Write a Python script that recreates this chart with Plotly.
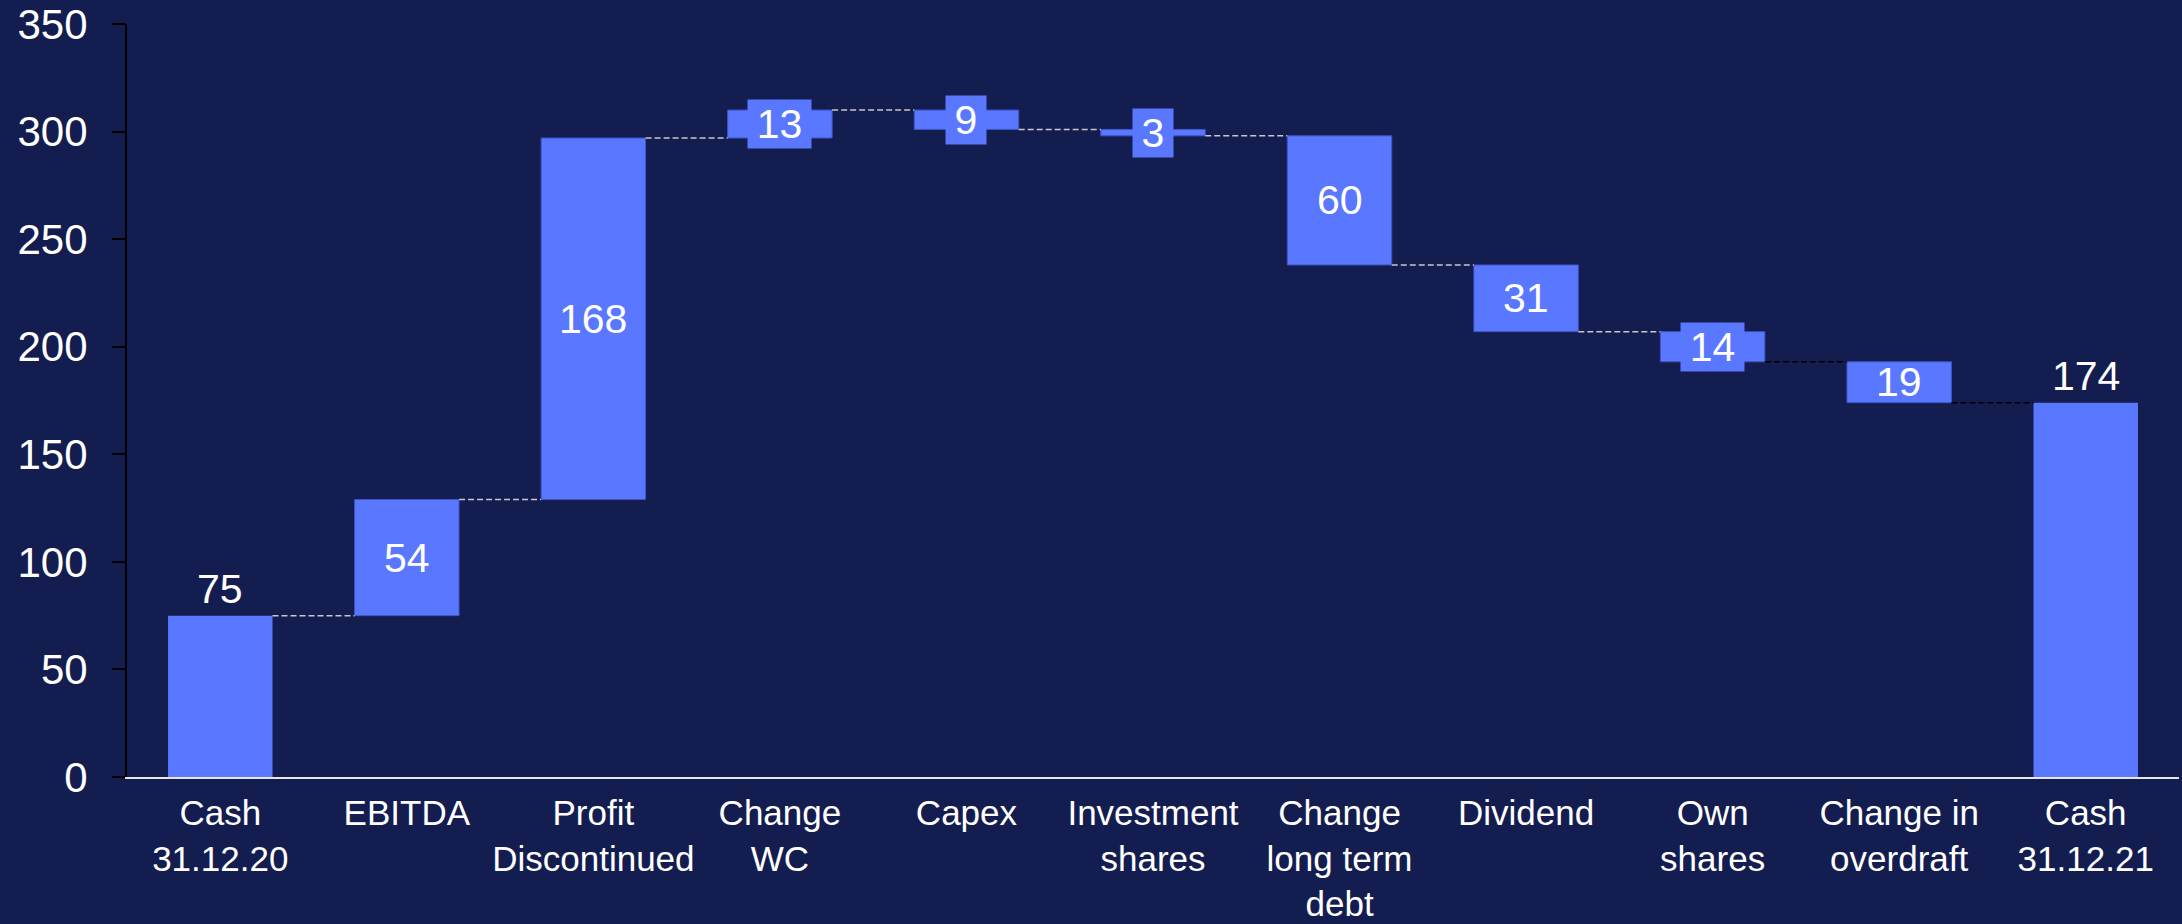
import plotly.graph_objects as go

categories = ["Cash<br>31.12.20", "EBITDA", "Profit<br>Discontinued", "Change<br>WC", "Capex",
              "Investment<br>shares", "Change<br>long term<br>debt", "Dividend", "Own<br>shares",
              "Change in<br>overdraft", "Cash<br>31.12.21"]
values = [75, 54, 168, 13, -9, -3, -60, -31, -14, -19, 174]
measures = ["absolute", "relative", "relative", "relative", "relative", "relative",
            "relative", "relative", "relative", "relative", "total"]
y_ticks = [0, 50, 100, 150, 200, 250, 300, 350]

BG = "#141d50"
BAR = "#5a77ff"
FONT = "Liberation Sans, Arial, sans-serif"
BAR_W = 0.56
connector_colors = ["#c8c8c8"] * 8 + ["#000000"] * 2

xs = list(range(len(categories)))

fig = go.Figure()
fig.add_trace(go.Waterfall(
    x=xs, y=values, measure=measures, width=BAR_W,
    increasing=dict(marker=dict(color=BAR, line=dict(color="#3d55c4", width=1))),
    decreasing=dict(marker=dict(color=BAR, line=dict(color="#3d55c4", width=1))),
    totals=dict(marker=dict(color=BAR, line=dict(color="#3d55c4", width=0))),
    connector=dict(visible=False),
    textinfo="none", hoverinfo="skip",
))

# cumulative levels
levels, bottoms, tops = [], [], []
cum = 0
for v, m in zip(values, measures):
    if m == "absolute":
        cum = v
        bottoms.append(0)
        tops.append(cum)
    elif m == "total":
        bottoms.append(0)
        tops.append(cum)
    else:
        b = cum
        cum = cum + v
        bottoms.append(min(b, cum))
        tops.append(max(b, cum))
    levels.append(cum)

shapes = []
for i in range(len(values) - 1):
    shapes.append(dict(type="line", xref="x", yref="y",
                       x0=i + BAR_W / 2, x1=i + 1 - BAR_W / 2,
                       y0=levels[i], y1=levels[i],
                       line=dict(color=connector_colors[i], width=1.5, dash="6px,3px")))

annotations = []
for i, (v, m) in enumerate(zip(values, measures)):
    txt = str(abs(v))
    if m in ("absolute", "total"):
        annotations.append(dict(x=i, y=tops[i], xref="x", yref="y", text=txt,
                                showarrow=False, yanchor="bottom", yshift=2,
                                font=dict(family=FONT, size=41, color="white")))
    else:
        small = abs(v) <= 14
        annotations.append(dict(x=i, y=(bottoms[i] + tops[i]) / 2, xref="x", yref="y", text=txt,
                                showarrow=False, yanchor="middle",
                                bgcolor=BAR if small else None,
                                width=(23 * len(txt) + 15) if small else None,
                                borderpad=1,
                                font=dict(family=FONT, size=41, color="white")))

fig.update_layout(
    width=2182, height=924,
    paper_bgcolor=BG, plot_bgcolor=BG,
    margin=dict(l=127, r=3, t=24, b=147),
    showlegend=False,
    shapes=shapes, annotations=annotations,
    font=dict(family=FONT, size=35, color="white"),
    xaxis=dict(range=[-0.5, len(categories) - 0.5], tickmode="array", tickvals=xs,
               ticktext=categories, showgrid=False, zeroline=False, automargin=False,
               showline=True, linecolor="#e6e6e6", linewidth=2, ticks="",
               ticklabelstandoff=4,
               tickfont=dict(family=FONT, size=35, color="white")),
    yaxis=dict(range=[0, 350], tickmode="array", tickvals=y_ticks, showgrid=False,
               zeroline=False, showline=True, linecolor="#000000", linewidth=2,
               ticks="outside", ticklen=13, tickwidth=2, tickcolor="#000000",
               ticklabelstandoff=16, automargin=False,
               tickfont=dict(family=FONT, size=42, color="white")),
)

fig.write_html("out.html")
